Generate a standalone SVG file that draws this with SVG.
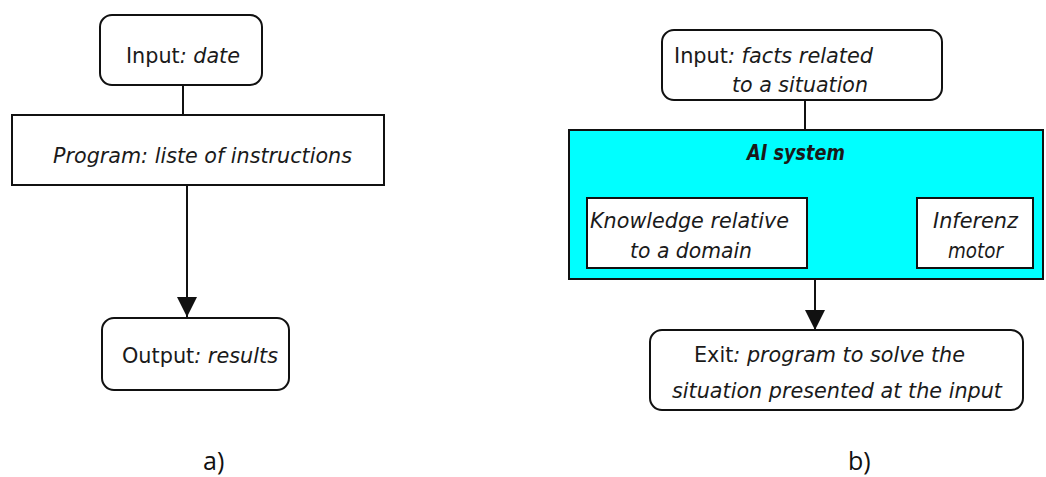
<svg xmlns="http://www.w3.org/2000/svg" width="1046" height="477" viewBox="0 0 1046 477">
<style>
.box{fill:#fff;stroke:#111;stroke-width:2}
.cyan{fill:#00ffff;stroke:#111;stroke-width:2}
.t{font-family:"DejaVu Sans",Verdana,sans-serif;font-size:22px;fill:#1a1a1a}
.i{font-style:italic}
.b{font-weight:bold}
.lbl{font-family:"Open Sans","Liberation Sans",sans-serif;font-size:25px;fill:#111}
.ln{stroke:#111;stroke-width:2;fill:none}
</style>
<defs>
<marker id="ah" viewBox="0 0 20 20" refX="20" refY="10" markerWidth="20" markerHeight="20" markerUnits="userSpaceOnUse" orient="auto">
<path d="M0,0 L20,10 L0,20 Z" fill="#111"/>
</marker>
</defs>
<rect width="1046" height="477" fill="#fff"/>
<g id="connectors">
<line class="ln" x1="183" y1="85" x2="183" y2="115"/>
<line class="ln" x1="187" y1="185" x2="187" y2="317" marker-end="url(#ah)"/>
<line class="ln" x1="805" y1="100" x2="805" y2="130"/>
<line class="ln" x1="815" y1="279" x2="815" y2="330" marker-end="url(#ah)"/>
</g>
<g id="a-input">
<rect class="box" x="100" y="15" width="162" height="70" rx="12"/>
<text class="t" x="126" y="63" textLength="114" lengthAdjust="spacingAndGlyphs">Input<tspan class="i">: date</tspan></text>
</g>
<g id="a-program">
<rect class="box" x="12" y="115" width="372" height="70"/>
<text class="t i" x="53" y="163" textLength="299" lengthAdjust="spacingAndGlyphs">Program: liste of instructions</text>
</g>
<g id="a-output">
<rect class="box" x="102" y="318" width="187" height="72" rx="12"/>
<text class="t" x="122" y="363" textLength="156" lengthAdjust="spacingAndGlyphs">Output<tspan class="i">: results</tspan></text>
</g>
<g id="b-input">
<rect class="box" x="662" y="30" width="280" height="70" rx="12"/>
<text class="t" x="674" y="63" textLength="199" lengthAdjust="spacingAndGlyphs">Input<tspan class="i">: facts related</tspan></text>
<text class="t i" x="732" y="92" textLength="136" lengthAdjust="spacingAndGlyphs">to a situation</text>
</g>
<g id="b-ai-system">
<rect class="cyan" x="569" y="130" width="474" height="149"/>
<text class="t i b" x="747" y="160" textLength="98" lengthAdjust="spacingAndGlyphs">AI system</text>
</g>
<g id="b-knowledge">
<rect class="box" x="587" y="198" width="220" height="70"/>
<text class="t i" x="590" y="228" textLength="199" lengthAdjust="spacingAndGlyphs">Knowledge relative</text>
<text class="t i" x="630" y="258" textLength="122" lengthAdjust="spacingAndGlyphs">to a domain</text>
</g>
<g id="b-inferenz">
<rect class="box" x="917" y="198" width="116" height="70"/>
<text class="t i" x="933" y="228" textLength="85" lengthAdjust="spacingAndGlyphs">Inferenz</text>
<text class="t i" x="948" y="258" textLength="55" lengthAdjust="spacingAndGlyphs">motor</text>
</g>
<g id="b-exit">
<rect class="box" x="650" y="330" width="373" height="80" rx="12"/>
<text class="t" x="694" y="362" textLength="271" lengthAdjust="spacingAndGlyphs">Exit<tspan class="i">: program to solve the</tspan></text>
<text class="t i" x="672" y="398" textLength="330" lengthAdjust="spacingAndGlyphs">situation presented at the input</text>
</g>
<g id="labels">
<text class="lbl" x="203" y="470">a)</text>
<text class="lbl" x="848" y="470">b)</text>
</g>
</svg>
